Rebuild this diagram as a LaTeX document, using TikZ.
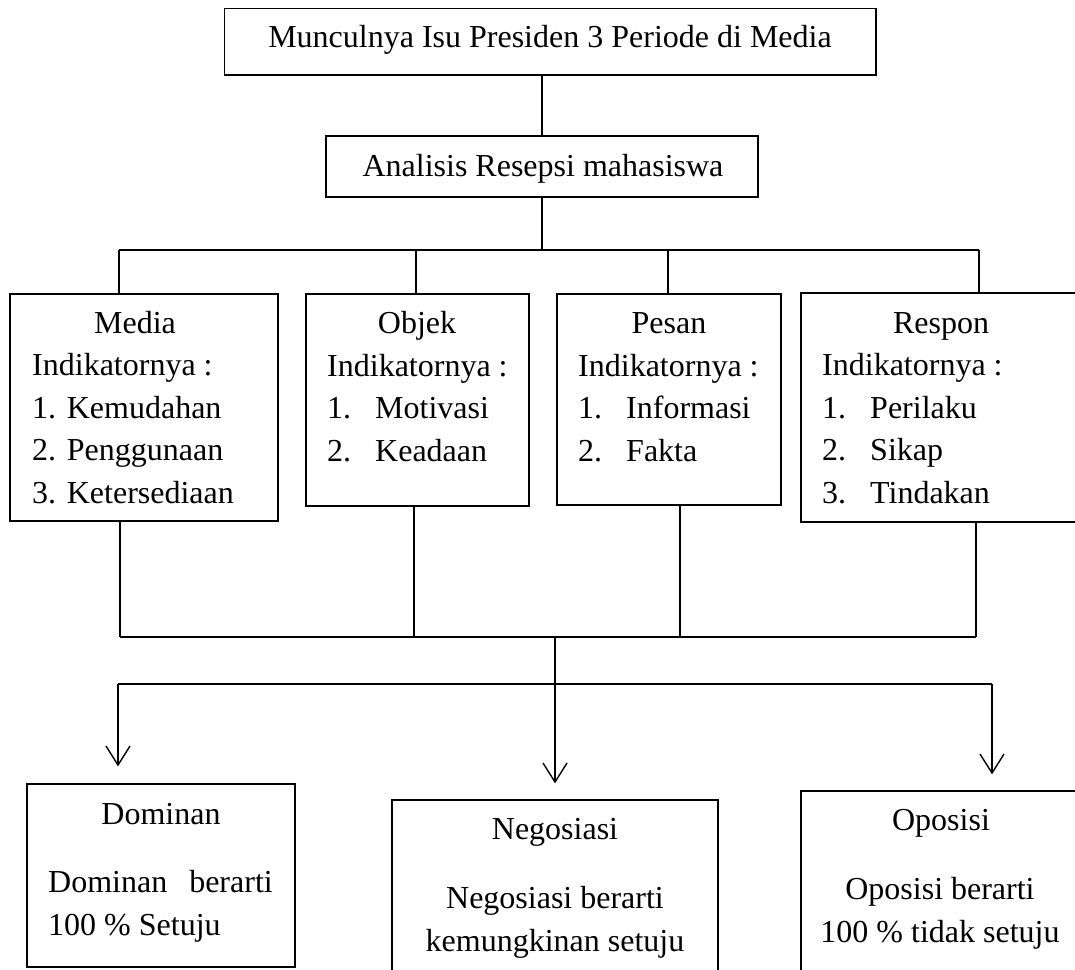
\documentclass[tikz,border=0pt]{standalone}
\usepackage{fontspec}
\setmainfont{Liberation Serif}
\usetikzlibrary{arrows.meta}
\newcommand{\nomor}[1]{\makebox[48pt][l]{#1}}

\begin{document}
\begin{tikzpicture}[x=1pt, y=-1pt,
	kotak/.style={draw, line width=1.3pt, inner sep=0pt},
	teks/.style={inner sep=0pt, font=\fontsize{32}{42.5}\selectfont},
	garis/.style={line width=1.4pt},
	panah/.style={line width=1.4pt, -{Straight Barb[length=19pt, width=24pt]}}]

\useasboundingbox (0, 0) rectangle (1075, 969);
\clip (0, 0) rectangle (1075, 969);

\node[kotak, minimum width=651.5, minimum height=66.5] (isu) at (550.25, 41.75) {};
\node[kotak, minimum width=432, minimum height=61] (ana) at (542, 166.5) {};
\node[teks, anchor=base] (isuteks) at (550, 47) {Munculnya Isu Presiden 3 Periode di Media};
\node[teks, anchor=base] (anateks) at (543, 176) {Analisis Resepsi mahasiswa};

\node[kotak, minimum width=268, minimum height=227] (media) at (144, 407.5) {};
\node[kotak, minimum width=223, minimum height=212] (objek) at (417.5, 400) {};
\node[kotak, minimum width=224, minimum height=211] (pesan) at (669, 399.5) {};
\node[kotak, minimum width=277, minimum height=229] (respon) at (939.5, 407.5) {};

% judul di baris pertama, isi ditaruh pada baris terakhirnya
\node[teks, anchor=base] (mediajudul) at (135, 333) {Media};
\node[teks, anchor=base] (objekjudul) at (417, 333) {Objek};
\node[teks, anchor=base] (pesanjudul) at (669, 333) {Pesan};
\node[teks, anchor=base] (responjudul) at (941, 333) {Respon};
\node[teks, anchor=base west, align=left] (mediaisi) at (32, 503)
	{Indikatornya :\\1. Kemudahan\\2. Penggunaan\\3. Ketersediaan};
\node[teks, anchor=base west, align=left] (objekisi) at (327, 461)
	{Indikatornya :\\\nomor{1.}Motivasi\\\nomor{2.}Keadaan};
\node[teks, anchor=base west, align=left] (pesanisi) at (578, 461)
	{Indikatornya :\\\nomor{1.}Informasi\\\nomor{2.}Fakta};
\node[teks, anchor=base west, align=left] (responisi) at (822, 503)
	{Indikatornya :\\\nomor{1.}Perilaku\\\nomor{2.}Sikap\\\nomor{3.}Tindakan};

\node[kotak, minimum width=268, minimum height=183] (dominan) at (161, 875.5) {};
\node[kotak, minimum width=326, minimum height=200] (nego) at (555, 900) {};
\node[kotak, minimum width=279, minimum height=209] (oposisi) at (940.5, 895.5) {};

\node[teks, anchor=base] (dominanjudul) at (161, 824) {Dominan};
\node[teks, anchor=base] (negojudul) at (555, 839) {Negosiasi};
\node[teks, anchor=base] (oposisijudul) at (941, 830) {Oposisi};
\node[teks, anchor=base west, align=left] (dominanisi) at (48, 935)
	{Dominan\hspace{14pt} berarti\\100 \% Setuju};
\node[teks, anchor=base, align=center] (negoisi) at (555, 951)
	{Negosiasi berarti\\kemungkinan setuju};
\node[teks, anchor=base, align=center] (oposisiisi) at (940, 942)
	{Oposisi berarti\\100 \% tidak setuju};

\coordinate (b1) at (119, 250);
\coordinate (b2) at (416, 250);
\coordinate (b3) at (668, 250);
\coordinate (b4) at (979, 250);
\coordinate (c1) at (120, 637);
\coordinate (c2) at (414, 637);
\coordinate (c3) at (680, 637);
\coordinate (c4) at (976, 637);
\coordinate (tengah) at (555, 637);
\coordinate (d1) at (118, 684);
\coordinate (d3) at (992, 684);

\draw[garis] (ana.north) -- (ana.north |- isu.south);
\draw[garis] (ana.south) -- (ana.south |- b1);
\draw[garis] (b1) -- (b4);
\foreach \t/\k in {b1/media, b2/objek, b3/pesan, b4/respon}
	\draw[garis] (\t) -- (\t |- \k.north);
\foreach \t/\k in {c1/media, c2/objek, c3/pesan, c4/respon}
	\draw[garis] (\k.south -| \t) -- (\t);
\draw[garis] (c1) -- (c4);
\draw[garis] (d1) -- (d3);

\draw[panah, shorten >=16pt] (tengah) -- (nego.north);
\draw[panah, shorten >=17pt] (d1) -- (d1 |- dominan.north);
\draw[panah, shorten >=16pt] (d3) -- (d3 |- oposisi.north);

\end{tikzpicture}
\end{document}
